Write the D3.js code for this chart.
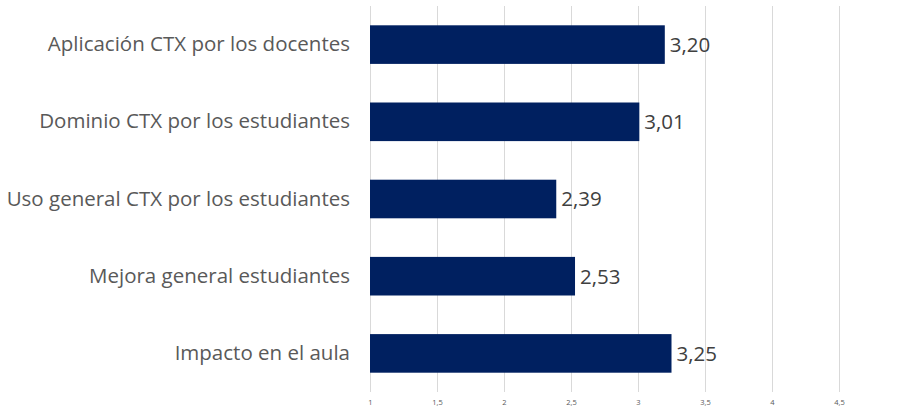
<!DOCTYPE html>
<html><head><meta charset="utf-8">
<script src="https://cdn.jsdelivr.net/npm/d3@7"></script>
<style>body{margin:0;background:#fff}svg{display:block}</style>
</head><body>
<script>
const categories = ["Aplicación CTX por los docentes","Dominio CTX por los estudiantes","Uso general CTX por los estudiantes","Mejora general estudiantes","Impacto en el aula"];
const values = [3.20, 3.01, 2.39, 2.53, 3.25];
const tickValues = [1,1.5,2,2.5,3,3.5,4,4.5];
const xMin = 1, xMax = 5;
(function(){
const fmt = v => d3.format(".2f")(v).replace(".", ",");
const tickFmt = v => String(v).replace(".", ",");
const font = "'Open Sans', sans-serif";

const W = 905, H = 408;
const svg = d3.select("body").append("svg").attr("width", W).attr("height", H);
const mLeft = 370, mRight = 906, mTop = 6, mBottom = 392;
const x = d3.scaleLinear().domain([xMin, xMax]).range([mLeft, mRight]);
const y = d3.scaleBand().domain(categories).range([mTop, mBottom]).paddingInner(0.5).paddingOuter(0.25);

const grid = svg.append("g").attr("transform", `translate(0,${mBottom})`)
  .call(d3.axisBottom(x).tickValues(tickValues).tickSize(-(mBottom-mTop)).tickFormat(tickFmt));
grid.select(".domain").remove();
grid.selectAll(".tick line").attr("stroke", "#d9d9d9").attr("stroke-width", 1);
grid.selectAll(".tick text").attr("fill", "#595959").attr("font-family", font)
  .attr("font-size", 7.5).attr("dy", 0).attr("y", 13);

svg.append("g").selectAll("rect").data(values).join("rect")
  .attr("x", x(xMin)).attr("y", (d,i) => y(categories[i]))
  .attr("width", d => x(d) - x(xMin)).attr("height", y.bandwidth())
  .attr("fill", "#002060");

svg.append("g").selectAll("text").data(values).join("text")
  .attr("x", d => x(d) + 5).attr("y", (d,i) => y(categories[i]) + y.bandwidth()/2)
  .attr("dy", "0.36em").attr("fill", "#404040")
  .attr("font-family", font).attr("font-size", 20.5)
  .text(fmt);

const yAxis = svg.append("g").attr("transform", `translate(${mLeft},0)`)
  .call(d3.axisLeft(y).tickSize(0).tickPadding(20));
yAxis.select(".domain").remove();
yAxis.selectAll(".tick text").attr("fill", "#595959")
  .attr("font-family", font).attr("font-size", 20.5);
})();
</script>
</body></html>
